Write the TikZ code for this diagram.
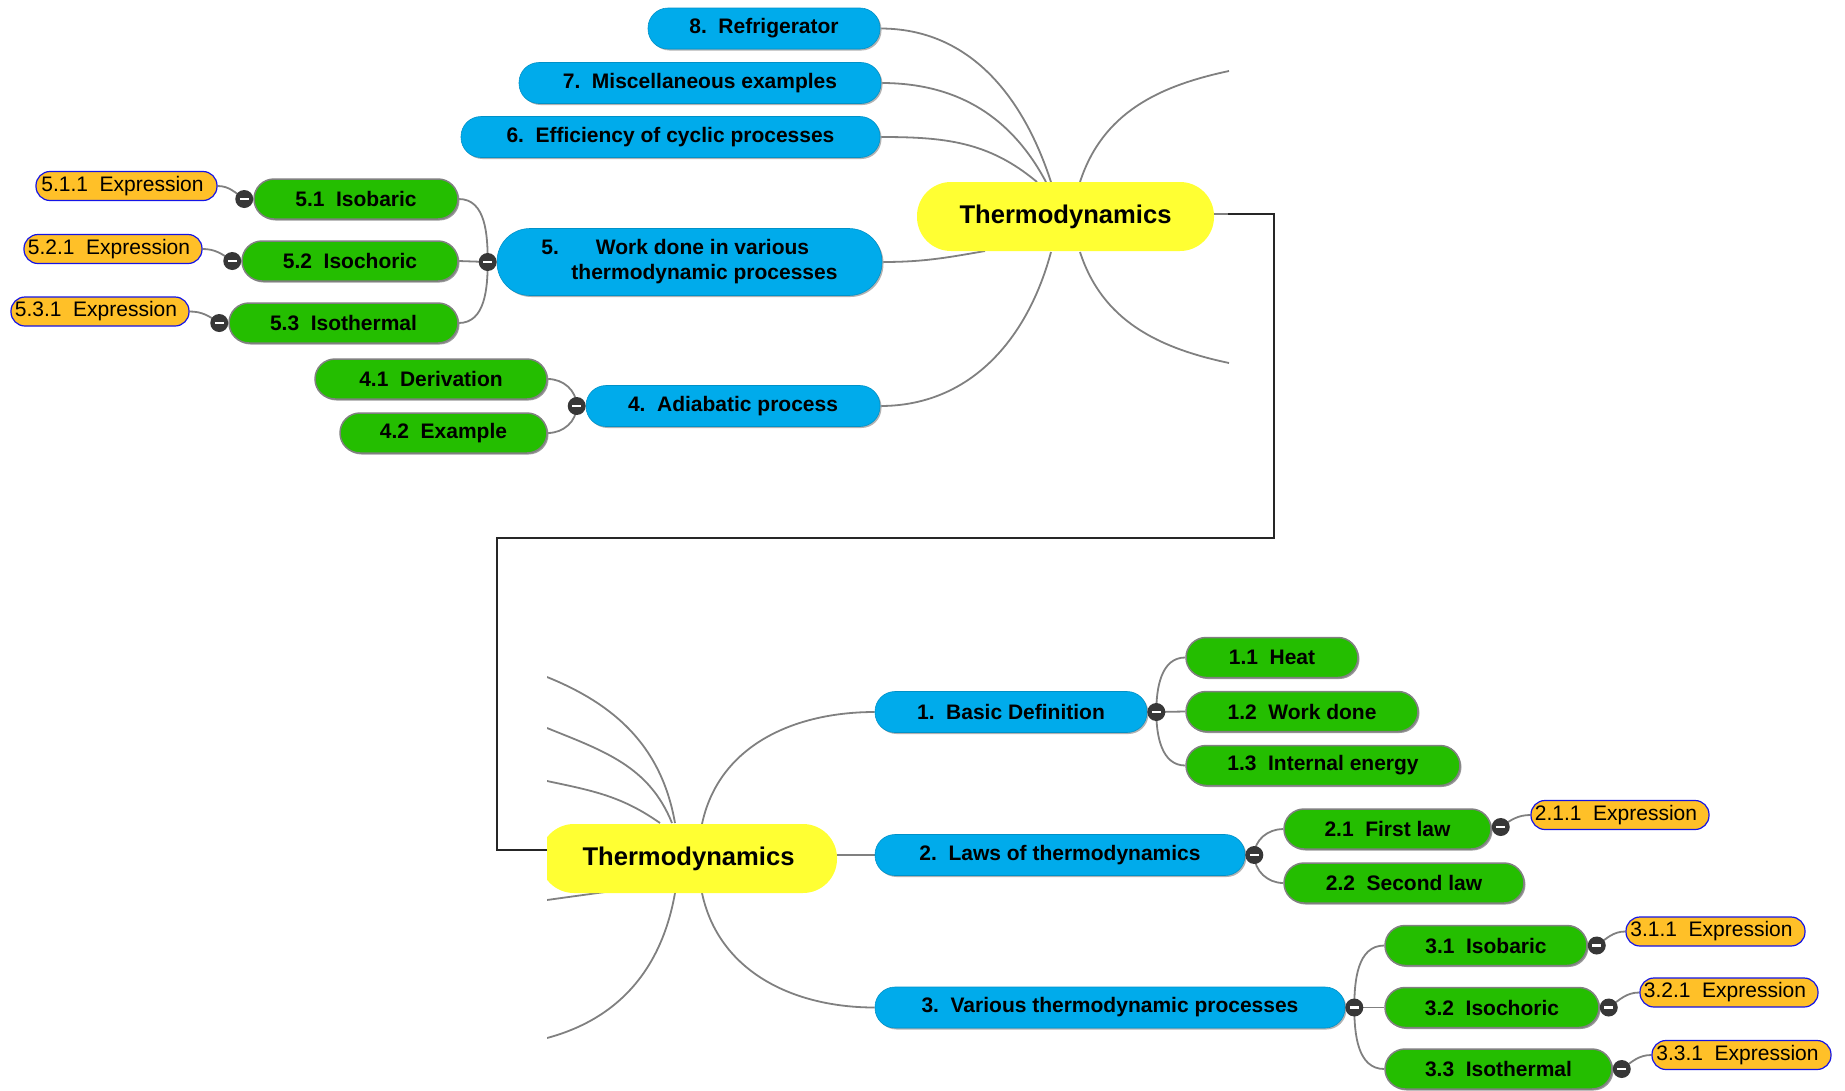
\documentclass[tikz,border=0pt]{standalone}
\usepackage{fontspec}
\setmainfont{Liberation Sans}
\usetikzlibrary{shadows,backgrounds}

\definecolor{rootyellow}{RGB}{255,255,51}
\definecolor{topicblue}{RGB}{0,171,235}
\definecolor{subgreen}{RGB}{36,190,0}
\definecolor{leaforange}{RGB}{255,192,40}
\definecolor{leafedge}{RGB}{20,20,230}
\definecolor{linkgray}{RGB}{128,128,128}
\definecolor{knobgray}{RGB}{55,55,55}

\newcommand\numgap{\hspace{0.55em}}

\tikzset{
  pill/.style={rectangle, rounded corners=#1, inner sep=0pt, align=center},
  rootbox/.style={pill=34pt, fill=rootyellow, minimum width=297pt, minimum height=69pt,
    font=\fontsize{25.6}{30}\selectfont\bfseries},
  topicbox/.style={pill=20pt, fill=topicblue, draw=topicblue!85!black, line width=0.6pt,
    minimum height=41pt, font=\fontsize{21}{25}\selectfont\bfseries,
    drop shadow={shadow xshift=1.5pt, shadow yshift=-1.5pt, fill=black!30, opacity=1}},
  subbox/.style={pill=20pt, fill=subgreen, draw=linkgray, line width=1.5pt,
    minimum height=40pt, font=\fontsize{21}{25}\selectfont\bfseries,
    drop shadow={shadow xshift=1.5pt, shadow yshift=-1.5pt, fill=black!40, opacity=1}},
  leafbox/.style={pill=14pt, fill=leaforange, draw=leafedge, line width=1.2pt,
    minimum height=29pt, font=\fontsize{21}{25}\selectfont,
    execute at end node={\hspace{8pt}}},
  knob/.style={circle, fill=knobgray, minimum size=18pt, inner sep=0pt,
    path picture={\draw[white, line width=2.6pt]
      ([xshift=-4.5pt]path picture bounding box.center) --
      ([xshift=4.5pt]path picture bounding box.center);}},
  link/.style={draw=linkgray, line width=1.8pt},
  bridge/.style={draw=black!85, line width=2.7pt},
}

\begin{document}
\begin{tikzpicture}[x=1pt, y=1pt]
\useasboundingbox (0,0) rectangle (1845,-1090);
\clip (0,0) rectangle (1845,-1090);

% ---------------- upper map ----------------
\node[rootbox] (rootT) at (1065.5,-216.5) {Thermodynamics};

\node[topicbox, minimum width=232pt] (n8) at (764,-28.5) {8.\numgap Refrigerator};
\node[topicbox, minimum width=362pt] (n7) at (700,-83) {7.\numgap Miscellaneous examples};
\node[topicbox, minimum width=419pt] (n6) at (670.5,-137) {6.\numgap Efficiency of cyclic processes};
\node[topicbox, pill=33pt, minimum width=385pt, minimum height=67pt, align=left] (n5) at (689.5,-262)
  {5.\hspace{37pt}Work done in various\\\hspace{30pt}thermodynamic processes};
\node[topicbox, minimum width=294pt] (n4) at (733,-406) {4.\numgap Adiabatic process};

\node[subbox, minimum width=204pt] (n51) at (356,-199) {5.1\numgap Isobaric};
\node[subbox, minimum width=216pt] (n52) at (350,-261) {5.2\numgap Isochoric};
\node[subbox, minimum width=229pt] (n53) at (343.5,-323) {5.3\numgap Isothermal};
\node[subbox, minimum width=232pt] (n41) at (431,-379) {4.1\numgap Derivation};
\node[subbox, minimum width=207pt] (n42) at (443.5,-433) {4.2\numgap Example};

\node[leafbox, minimum width=181pt] (e511) at (126.5,-186) {5.1.1\numgap Expression};
\node[leafbox, minimum width=178pt] (e521) at (113,-249) {5.2.1\numgap Expression};
\node[leafbox, minimum width=178pt] (e531) at (100,-311.5) {5.3.1\numgap Expression};

\node[knob] (k5) at ([xshift=-9pt]n5.west) {};
\node[knob] (k4) at ([xshift=-9pt]n4.west) {};
\node[knob] (k51) at ([xshift=-9pt]n51.west) {};
\node[knob] (k52) at ([xshift=-9pt]n52.west) {};
\node[knob] (k53) at ([xshift=-9pt]n53.west) {};

% anchor points where the branches meet the upper root
\coordinate (tA) at (1051,-182);
\coordinate (tB) at (1046,-182);
\coordinate (tC) at (1037,-182);
\coordinate (tD) at (985,-251);
\coordinate (tE) at (1051,-252);
\coordinate (tF) at (1080,-182);
\coordinate (tG) at (1080,-252);
\coordinate (tFend) at (1229,-71);
\coordinate (tGend) at (1229,-363);
\coordinate (stub) at (1228,-214);

% ---------------- lower map ----------------
\begin{scope}
  \clip (547,-560) rectangle (1845,-1090);
  \node[rootbox] (rootB) at (688.5,-858.5) {Thermodynamics};
\end{scope}

\node[topicbox, minimum width=272pt] (n1) at (1011,-712) {1.\numgap Basic Definition};
\node[topicbox, minimum width=370pt] (n2) at (1060,-855) {2.\numgap Laws of thermodynamics};
\node[topicbox, minimum width=470pt] (n3) at (1110,-1007.5) {3.\numgap Various thermodynamic processes};

\node[subbox, minimum width=172pt] (n11) at (1272,-657.5) {1.1\numgap Heat};
\node[subbox, minimum width=232pt] (n12) at (1302,-711.5) {1.2\numgap Work done};
\node[subbox, minimum width=274pt] (n13) at (1323,-765.5) {1.3\numgap Internal energy};
\node[subbox, minimum width=207pt] (n21) at (1387.5,-829) {2.1\numgap First law};
\node[subbox, minimum width=240pt] (n22) at (1404,-883) {2.2\numgap Second law};
\node[subbox, minimum width=202pt] (n31) at (1486,-945.5) {3.1\numgap Isobaric};
\node[subbox, minimum width=214pt] (n32) at (1492,-1007.5) {3.2\numgap Isochoric};
\node[subbox, minimum width=227pt] (n33) at (1498.5,-1069) {3.3\numgap Isothermal};

\node[leafbox, minimum width=178pt] (e211) at (1620,-815) {2.1.1\numgap Expression};
\node[leafbox, minimum width=179pt] (e311) at (1715.5,-931.5) {3.1.1\numgap Expression};
\node[leafbox, minimum width=178pt] (e321) at (1729,-992.5) {3.2.1\numgap Expression};
\node[leafbox, minimum width=179pt] (e331) at (1741.5,-1055) {3.3.1\numgap Expression};

\node[knob] (k1) at ([xshift=9pt]n1.east) {};
\node[knob] (k2) at ([xshift=9pt]n2.east) {};
\node[knob] (k3) at ([xshift=9pt]n3.east) {};
\node[knob] (k21) at ([xshift=9pt,yshift=2pt]n21.east) {};
\node[knob] (k31) at ([xshift=9pt]n31.east) {};
\node[knob] (k32) at ([xshift=9pt]n32.east) {};
\node[knob] (k33) at ([xshift=9pt]n33.east) {};

% anchor points where the branches meet the lower root
\coordinate (bA) at (702,-824);
\coordinate (bB) at (702,-893);
\coordinate (bC) at (675,-823);
\coordinate (bD) at (672,-823);
\coordinate (bE) at (660,-823);
\coordinate (bF) at (612,-891);
\coordinate (bG) at (675,-893);
\coordinate (bAend) at (547,-677);
\coordinate (bBend) at (547,-728);
\coordinate (bCend) at (547,-781);
\coordinate (bDend) at (547,-900);
\coordinate (bEend) at (547,-1038);
\coordinate (bridgeend) at (547,-850);

% ---------------- connectors ----------------
\begin{pgfonlayer}{background}
  % upper root branches
  \draw[link] (n8.east) to[out=0, in=108] (tA);
  \draw[link] (n7.east) to[out=0, in=118] (tB);
  \draw[link] (n6.east) to[out=0, in=140] (tC);
  \draw[link] (n5.east) to[out=0, in=190] (tD);
  \draw[link] (n4.east) to[out=0, in=-105] (tE);
  \draw[link] (tF) to[out=72, in=192] (tFend);
  \draw[link] (tG) to[out=-72, in=168] (tGend);

  % upper sub-branches
  \draw[link] (k5.center) to[out=90, in=0] (n51.east);
  \draw[link] (k5.center) -- (n52.east);
  \draw[link] (k5.center) to[out=-90, in=0] (n53.east);
  \draw[link] (k4.center) to[out=90, in=0] (n41.east);
  \draw[link] (k4.center) to[out=-90, in=0] (n42.east);
  \draw[link] (e511.east) to[out=0, in=145] (k51.center);
  \draw[link] (e521.east) to[out=0, in=145] (k52.center);
  \draw[link] (e531.east) to[out=0, in=145] (k53.center);

  % link between the two maps
  \draw[link] (rootT.east |- stub) -- (stub);
  \draw[bridge] (stub) -- ++(46,0) |- (497,-538) |- (bridgeend);

  % lower root branches
  \draw[link] (bA) to[out=78, in=180] (n1.west);
  \draw[link] (rootB.east |- n2.west) -- (n2.west);
  \draw[link] (bB) to[out=-78, in=180] (n3.west);
  \begin{scope}
    \clip (547,-560) rectangle (1845,-1090);
    \draw[link] (bC) to[out=100, in=-22] (bAend);
    \draw[link] (bD) to[out=112, in=-22] (bBend);
    \draw[link] (bE) to[out=145, in=-12] (bCend);
    \draw[link] (bF) to[out=188, in=8] (bDend);
    \draw[link] (bG) to[out=-100, in=15] (bEend);
  \end{scope}

  % lower sub-branches
  \draw[link] (k1.center) to[out=90, in=180] (n11.west);
  \draw[link] (k1.center) -- (n12.west);
  \draw[link] (k1.center) to[out=-90, in=180] (n13.west);
  \draw[link] (k2.center) to[out=90, in=180] (n21.west);
  \draw[link] (k2.center) to[out=-90, in=180] (n22.west);
  \draw[link] (k3.center) to[out=90, in=180] (n31.west);
  \draw[link] (k3.center) -- (n32.west);
  \draw[link] (k3.center) to[out=-90, in=180] (n33.west);
  \draw[link] (k21.center) to[out=35, in=180] (e211.west);
  \draw[link] (k31.center) to[out=35, in=180] (e311.west);
  \draw[link] (k32.center) to[out=35, in=180] (e321.west);
  \draw[link] (k33.center) to[out=35, in=180] (e331.west);
\end{pgfonlayer}
\end{tikzpicture}
\end{document}
